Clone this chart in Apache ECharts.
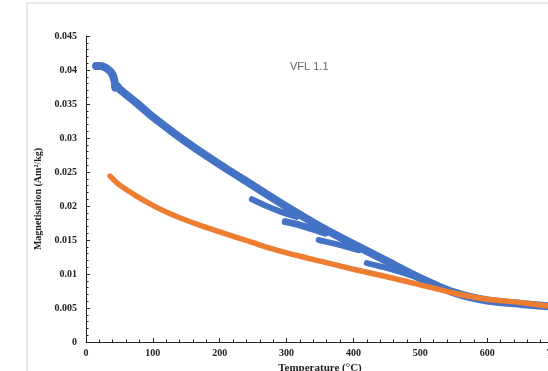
<!DOCTYPE html>
<html>
<head>
<meta charset="utf-8">
<script src="https://cdn.jsdelivr.net/npm/echarts@6/dist/echarts.min.js"></script>
<style>
html,body{margin:0;padding:0;background:#fff;}
#chart{width:548px;height:371px;}
</style>
</head>
<body>
<div id="chart"></div>
<script>
// Orange curve (cooling)
var orangeTemp = [36, 50, 75, 100, 125, 150, 175, 200, 225, 250, 275, 300, 350, 400, 450, 500, 550, 575, 600, 650, 700];
var orangeMag  = [0.0244, 0.0231, 0.0215, 0.0201, 0.0189, 0.0179, 0.0170, 0.0162, 0.0154, 0.0146, 0.0138, 0.0131, 0.0119, 0.0107, 0.0096, 0.0084, 0.0072, 0.0067, 0.0063, 0.0058, 0.0052];

// Blue curve (heating) main band
var blueTemp = [15, 22, 28, 34, 38, 41, 43, 44, 47, 50, 55, 75, 100, 150, 200, 250, 300, 350, 400, 450, 500, 550, 600, 650, 700];
var blueMag  = [0.0406, 0.0406, 0.0404, 0.0400, 0.0396, 0.0390, 0.0382, 0.0374, 0.0376, 0.0372, 0.0368, 0.0352, 0.0331, 0.0294, 0.0261, 0.0230, 0.0199, 0.0170, 0.0144, 0.0119, 0.0094, 0.0073, 0.0061, 0.0056, 0.0052];

// Blue branches (steps of the heating run)
var branch1Temp = [248, 270, 290, 315];
var branch1Mag  = [0.0210, 0.0200, 0.0192, 0.0184];
var branch2Temp = [298, 320, 340, 358];
var branch2Mag  = [0.0177, 0.0172, 0.0166, 0.0160];
var branch3Temp = [348, 370, 390, 408];
var branch3Mag  = [0.0150, 0.0145, 0.0140, 0.0135];
var branch4Temp = [420, 445, 470, 495, 520];
var branch4Mag  = [0.0116, 0.0110, 0.0103, 0.0095, 0.0086];

// Axis ticks
var xTicks = [0, 100, 200, 300, 400, 500, 600, 700];
var yTicks = [0, 0.005, 0.01, 0.015, 0.02, 0.025, 0.03, 0.035, 0.04, 0.045];

function pairs(xs, ys) { return xs.map(function (x, i) { return [x, ys[i]]; }); }

var BLUE = '#4472C4', ORANGE = '#ED7D31';
function blueSeries(xs, ys, w) {
  return {
    type: 'line', data: pairs(xs, ys), showSymbol: false, smooth: 0.25,
    lineStyle: { color: BLUE, width: w, cap: 'round', join: 'round' },
    itemStyle: { color: BLUE }, silent: true, z: 2
  };
}

var chart = echarts.init(document.getElementById('chart'), null, { renderer: 'canvas' });
var labelFont = { fontFamily: 'Liberation Serif', fontWeight: 'bold', fontSize: 10, color: '#222' };

chart.setOption({
  animation: false,
  backgroundColor: '#fff',
  grid: { left: 86, right: -6, top: 36, bottom: 29, containLabel: false, outerBoundsMode: 'none' },
  graphic: [
    { type: 'rect', shape: { x: 27, y: 3, width: 600, height: 400 },
      style: { fill: 'none', stroke: '#e4e4e4', lineWidth: 1.5 }, z: 0, silent: true },
    { type: 'text', left: 290, top: 61,
      style: { text: 'VFL 1.1', fontFamily: 'Liberation Sans', fontSize: 11, fill: '#666' }, z: 10 }
  ],
  xAxis: {
    type: 'value', min: xTicks[0], max: xTicks[xTicks.length - 1], interval: 100,
    name: 'Temperature (°C)', nameLocation: 'middle', nameGap: 19,
    nameTextStyle: { fontFamily: 'Liberation Serif', fontWeight: 'bold', fontSize: 11, color: '#222' },
    axisLine: { show: true, lineStyle: { color: '#222', width: 1 } },
    axisTick: { show: true, inside: true, length: 4, lineStyle: { color: '#222' } },
    minorTick: { show: true, splitNumber: 5, length: 2.5, lineStyle: { color: '#222' } },
    splitLine: { show: false },
    axisLabel: Object.assign({ margin: 6, hideOverlap: false }, labelFont)
  },
  yAxis: {
    type: 'value', min: yTicks[0], max: yTicks[yTicks.length - 1], interval: 0.005,
    name: 'Magnetisation (Am²/kg)', nameLocation: 'middle', nameGap: 41, nameRotate: 90,
    nameTextStyle: { fontFamily: 'Liberation Serif', fontWeight: 'bold', fontSize: 10, color: '#222', padding: [0, 20, 0, 0] },
    axisLine: { show: true, lineStyle: { color: '#222', width: 1 } },
    axisTick: { show: true, inside: true, length: 4, lineStyle: { color: '#222' } },
    minorTick: { show: true, splitNumber: 5, length: 2.5, lineStyle: { color: '#222' } },
    splitLine: { show: false },
    axisLabel: Object.assign({ margin: 9, formatter: function (v) { return String(+v.toFixed(3)); } }, labelFont)
  },
  series: [
    blueSeries(blueTemp, blueMag, 8),
    blueSeries(branch1Temp, branch1Mag, 6),
    blueSeries(branch2Temp, branch2Mag, 7),
    blueSeries(branch3Temp, branch3Mag, 6),
    blueSeries(branch4Temp, branch4Mag, 6),
    {
      type: 'line', data: pairs(orangeTemp, orangeMag), showSymbol: false, smooth: 0.25,
      lineStyle: { color: ORANGE, width: 5.5, cap: 'round', join: 'round' },
      itemStyle: { color: ORANGE }, silent: true, z: 3
    }
  ]
});
</script>
</body>
</html>
